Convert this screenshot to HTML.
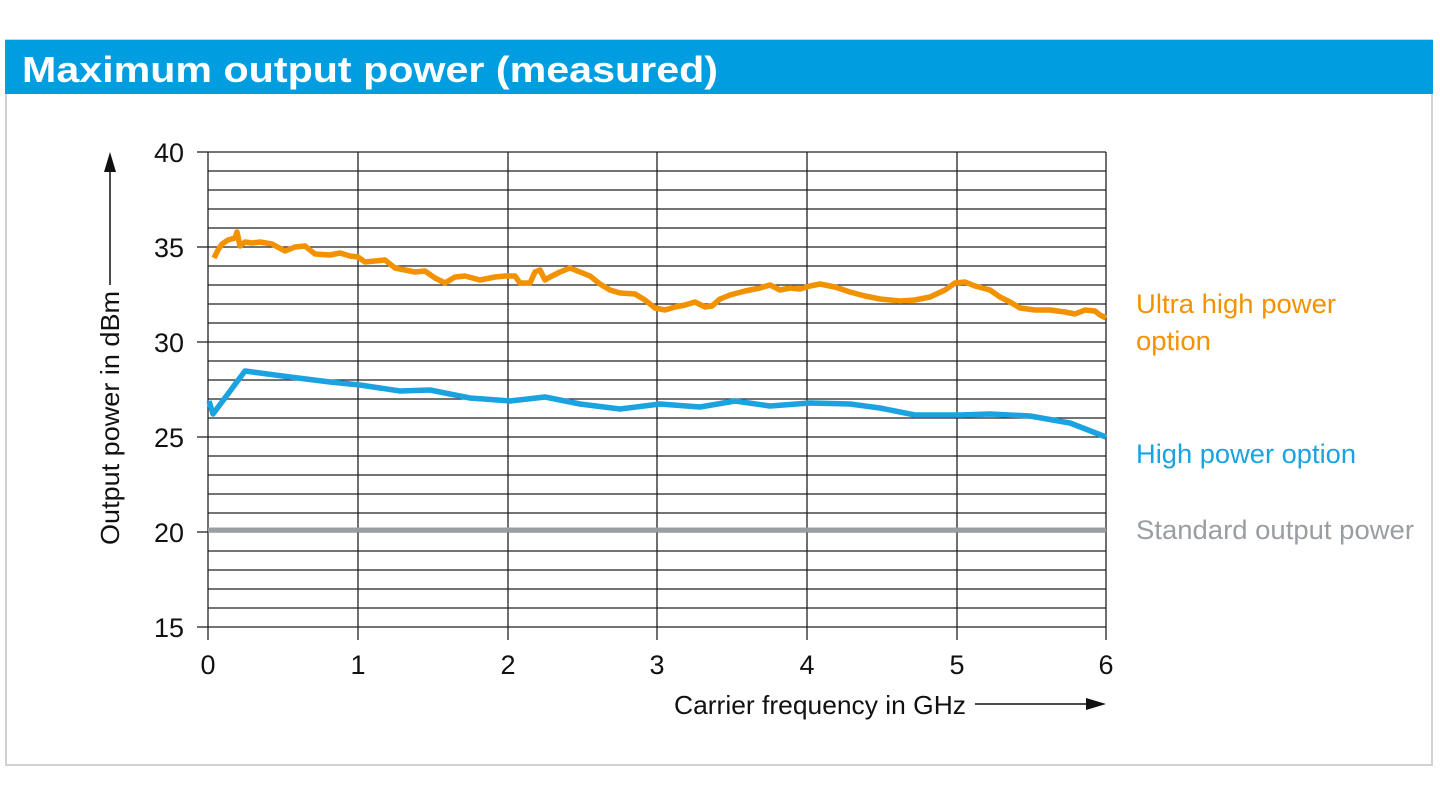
<!DOCTYPE html>
<html><head><meta charset="utf-8"><style>
html,body{margin:0;padding:0;background:#fff;}
svg{display:block;}
text{font-family:"Liberation Sans Narrow","Liberation Sans",sans-serif;}
</style></head><body>
<svg width="1440" height="810" viewBox="0 0 1440 810" xmlns="http://www.w3.org/2000/svg">
<rect x="6" y="40" width="1426" height="725" fill="#fff" stroke="#d0d3d6" stroke-width="2"/>
<rect x="5" y="40" width="1428" height="54" fill="#009ee0"/>
<text x="22" y="82" font-size="36" font-weight="bold" fill="#fff" textLength="696" lengthAdjust="spacingAndGlyphs" style="font-family:'Liberation Sans',sans-serif">Maximum output power (measured)</text>
<g stroke="#222" stroke-width="1.3">
<line x1="208" y1="152" x2="1106" y2="152"/><line x1="208" y1="171" x2="1106" y2="171"/><line x1="208" y1="190" x2="1106" y2="190"/><line x1="208" y1="209" x2="1106" y2="209"/><line x1="208" y1="228" x2="1106" y2="228"/><line x1="208" y1="247" x2="1106" y2="247"/><line x1="208" y1="266" x2="1106" y2="266"/><line x1="208" y1="285" x2="1106" y2="285"/><line x1="208" y1="304" x2="1106" y2="304"/><line x1="208" y1="323" x2="1106" y2="323"/><line x1="208" y1="342" x2="1106" y2="342"/><line x1="208" y1="361" x2="1106" y2="361"/><line x1="208" y1="380" x2="1106" y2="380"/><line x1="208" y1="399" x2="1106" y2="399"/><line x1="208" y1="418" x2="1106" y2="418"/><line x1="208" y1="437" x2="1106" y2="437"/><line x1="208" y1="456" x2="1106" y2="456"/><line x1="208" y1="475" x2="1106" y2="475"/><line x1="208" y1="494" x2="1106" y2="494"/><line x1="208" y1="513" x2="1106" y2="513"/><line x1="208" y1="532" x2="1106" y2="532"/><line x1="208" y1="551" x2="1106" y2="551"/><line x1="208" y1="570" x2="1106" y2="570"/><line x1="208" y1="589" x2="1106" y2="589"/><line x1="208" y1="608" x2="1106" y2="608"/><line x1="208" y1="627" x2="1106" y2="627"/>
<line x1="197" y1="152" x2="208" y2="152"/><line x1="197" y1="247" x2="208" y2="247"/><line x1="197" y1="342" x2="208" y2="342"/><line x1="197" y1="437" x2="208" y2="437"/><line x1="197" y1="532" x2="208" y2="532"/><line x1="197" y1="627" x2="208" y2="627"/>
<line x1="208" y1="152" x2="208" y2="640"/><line x1="358" y1="152" x2="358" y2="640"/><line x1="508" y1="152" x2="508" y2="640"/><line x1="657" y1="152" x2="657" y2="640"/><line x1="807" y1="152" x2="807" y2="640"/><line x1="957" y1="152" x2="957" y2="640"/><line x1="1106" y1="152" x2="1106" y2="640"/>
</g>
<line x1="208" y1="530" x2="1106" y2="530" stroke="#9a9ea2" stroke-width="5"/>
<polyline fill="none" stroke="#1aa3e0" stroke-width="5.5" stroke-linejoin="round" points="209,401 213,414 245,371 260,373 290,377 330,382 360,385 400,391 430,390 470,398 510,401 545,397 580,404 620,409 660,404 700,407 735,401 770,406 810,403 850,404 880,408 915,415 960,415 990,414 1030,416 1070,423 1106,437"/>
<polyline fill="none" stroke="#f39200" stroke-width="5.5" stroke-linejoin="round" points="214,258 218,250 222,244 228,240 235,238 237,232 240,246 245,242 252,243 260,242 272,244 285,251 295,247 305,246 315,254 330,255 340,253 350,256 358,257 365,262 375,261 385,260 395,268 405,270 415,272 425,271 435,278 445,283 455,277 465,276 480,280 495,277 505,276 515,276 520,283 530,283 535,272 540,270 545,280 550,277 560,272 570,268 580,272 590,276 600,284 610,290 620,293 635,294 645,300 655,308 665,310 675,307 685,305 695,302 705,307 712,306 720,299 730,295 745,291 760,288 770,285 780,290 790,288 800,289 810,286 820,284 835,287 850,292 865,296 880,299 900,301 915,300 930,297 945,290 955,283 965,282 975,286 990,290 1000,297 1010,302 1020,308 1035,310 1050,310 1065,312 1075,314 1085,310 1095,311 1100,315 1106,318"/>
<g font-size="27" fill="#111" text-anchor="end">
<text x="184" y="162" textLength="30" lengthAdjust="spacingAndGlyphs">40</text><text x="184" y="257" textLength="30" lengthAdjust="spacingAndGlyphs">35</text><text x="184" y="352" textLength="30" lengthAdjust="spacingAndGlyphs">30</text><text x="184" y="447" textLength="30" lengthAdjust="spacingAndGlyphs">25</text><text x="184" y="542" textLength="30" lengthAdjust="spacingAndGlyphs">20</text><text x="184" y="637" textLength="30" lengthAdjust="spacingAndGlyphs">15</text>
</g>
<g font-size="27" fill="#111" text-anchor="middle">
<text x="208" y="674">0</text><text x="358" y="674">1</text><text x="508" y="674">2</text><text x="657" y="674">3</text><text x="807" y="674">4</text><text x="957" y="674">5</text><text x="1106" y="674">6</text>
</g>
<text x="674" y="714" font-size="26" fill="#111" textLength="292" lengthAdjust="spacingAndGlyphs">Carrier frequency in GHz</text>
<line x1="975" y1="704" x2="1088" y2="704" stroke="#111" stroke-width="1.5"/>
<polygon points="1106,704 1086,698 1086,710" fill="#111"/>
<text transform="translate(119,545) rotate(-90)" font-size="26" fill="#111" textLength="254" lengthAdjust="spacingAndGlyphs">Output power in dBm</text>
<line x1="110" y1="285" x2="110" y2="170" stroke="#111" stroke-width="1.5"/>
<polygon points="110,152 104,172 116,172" fill="#111"/>
<text x="1136" y="313" font-size="27" fill="#f39200" textLength="200" lengthAdjust="spacingAndGlyphs">Ultra high power</text>
<text x="1136" y="350" font-size="27" fill="#f39200" textLength="75" lengthAdjust="spacingAndGlyphs">option</text>
<text x="1136" y="463" font-size="27" fill="#1aa3e0" textLength="220" lengthAdjust="spacingAndGlyphs">High power option</text>
<text x="1136" y="539" font-size="27" fill="#9a9ea2" textLength="278" lengthAdjust="spacingAndGlyphs">Standard output power</text>
</svg>
</body></html>
